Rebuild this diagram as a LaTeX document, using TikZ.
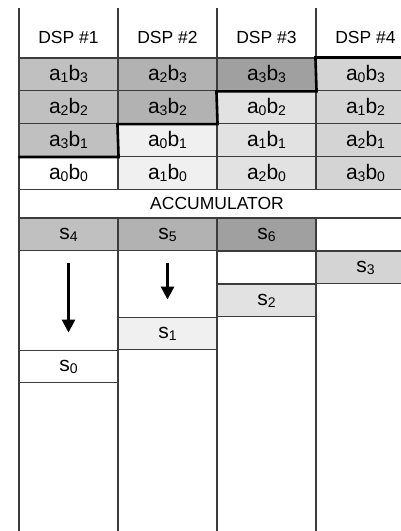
\documentclass[tikz,border=0pt]{standalone}
\usepackage{fontspec}
\setmainfont{Liberation Sans}
\usetikzlibrary{arrows.meta,positioning}
\definecolor{gridgray}{HTML}{3C3C3C}
\definecolor{shadeA}{HTML}{F0F0F0}
\definecolor{shadeB}{HTML}{E2E2E2}
\definecolor{shadeC}{HTML}{D4D4D4}
\definecolor{shadeD}{HTML}{C0C0C0}
\definecolor{shadeE}{HTML}{B2B2B2}
\definecolor{shadeF}{HTML}{A0A0A0}
\newcommand\ix[1]{\raisebox{-2pt}{\fontsize{14}{14}\selectfont #1}}
\newcommand\prodab[2]{a\ix{#1}b\ix{#2}}
\newcommand\sums[1]{s\ix{#1}}
\tikzset{
cellbox/.style={draw=gridgray, line width=1.1pt, minimum width=99pt, minimum height=32.8pt, inner sep=0pt, font=\fontsize{21}{21}\selectfont},
headbox/.style={inner sep=0pt, font=\fontsize{17.5}{18}\selectfont},
accbox/.style={cellbox, minimum width=396pt, minimum height=28.8pt, font=\fontsize{17.5}{18}\selectfont},
gridline/.style={draw=gridgray, line width=1.1pt},
stairline/.style={line width=2.6pt, line join=miter},
flowarrow/.style={-{Triangle[length=13pt,width=13pt]}, line width=2.8pt}
}

\begin{document}
\begin{tikzpicture}[x=1pt,y=-1pt]
\useasboundingbox (0,0) rectangle (401,531);
\clip (0,0) rectangle (401,531);

% column rules
\foreach \x in {19,118,217,316}
  \draw[gridline] (\x,8) -- (\x,531);

% headers
\node[headbox] (dsp1) at (68.5,37.5) {DSP \#1};
\node[headbox] (dsp2) at (167.5,37.5) {DSP \#2};
\node[headbox] (dsp3) at (266.5,37.5) {DSP \#3};
\node[headbox] (dsp4) at (365.5,37.5) {DSP \#4};

% partial products
\node[cellbox, fill=shadeD] (a1b3) at (68.5,74.4) {\prodab{1}{3}};
\node[cellbox, fill=shadeE] (a2b3) at (167.5,74.4) {\prodab{2}{3}};
\node[cellbox, fill=shadeF] (a3b3) at (266.5,74.4) {\prodab{3}{3}};
\node[cellbox, fill=shadeC] (a0b3) at (365.5,74.4) {\prodab{0}{3}};

\node[cellbox, fill=shadeD] (a2b2) at (68.5,107.2) {\prodab{2}{2}};
\node[cellbox, fill=shadeE] (a3b2) at (167.5,107.2) {\prodab{3}{2}};
\node[cellbox, fill=shadeB] (a0b2) at (266.5,107.2) {\prodab{0}{2}};
\node[cellbox, fill=shadeC] (a1b2) at (365.5,107.2) {\prodab{1}{2}};

\node[cellbox, fill=shadeD] (a3b1) at (68.5,140) {\prodab{3}{1}};
\node[cellbox, fill=shadeA] (a0b1) at (167.5,140) {\prodab{0}{1}};
\node[cellbox, fill=shadeB] (a1b1) at (266.5,140) {\prodab{1}{1}};
\node[cellbox, fill=shadeC] (a2b1) at (365.5,140) {\prodab{2}{1}};

\node[cellbox, fill=white] (a0b0) at (68.5,172.8) {\prodab{0}{0}};
\node[cellbox, fill=shadeA] (a1b0) at (167.5,172.8) {\prodab{1}{0}};
\node[cellbox, fill=shadeB] (a2b0) at (266.5,172.8) {\prodab{2}{0}};
\node[cellbox, fill=shadeC] (a3b0) at (365.5,172.8) {\prodab{3}{0}};

\node[accbox, fill=white] (acc) at (217,203.6) {ACCUMULATOR};

% sums
\node[cellbox, fill=shadeD] (s4) at (68.5,234.5) {\sums{4}};
\node[cellbox, fill=shadeE] (s5) at (167.5,234.5) {\sums{5}};
\node[cellbox, fill=shadeF] (s6) at (266.5,234.5) {\sums{6}};
\node[cellbox, fill=white] (gap4) at (365.5,234.5) {};
\node[cellbox, fill=white] (gap3) at (266.5,267.5) {};
\node[cellbox, fill=shadeC] (s3) at (365.5,267.5) {\sums{3}};
\node[cellbox, fill=shadeB] (s2) at (266.5,300.5) {\sums{2}};
\node[cellbox, fill=shadeA] (s1) at (167.5,333.5) {\sums{1}};
\node[cellbox, fill=white] (s0) at (68.5,366.5) {\sums{0}};

% staircase border
\draw[stairline] (a3b1.south west) -- (a3b1.south east) -- (a3b2.south west)
  -- (a3b2.south east) -- (a3b3.south west) -- (a3b3.south east)
  -- (a0b3.north west) -- (a0b3.north east);

\draw[flowarrow] ([yshift=-12pt]s4.south) -- ([yshift=17pt]s0.north);
\draw[flowarrow] ([yshift=-12pt]s5.south) -- ([yshift=17pt]s1.north);
\end{tikzpicture}
\end{document}
